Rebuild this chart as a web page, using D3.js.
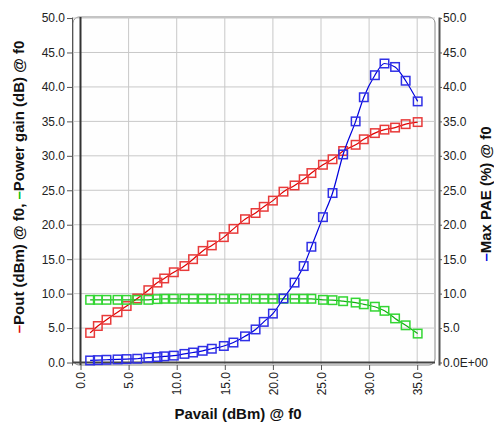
<!DOCTYPE html>
<html>
<head>
<meta charset="utf-8">
<script src="https://cdn.jsdelivr.net/npm/d3@7"></script>
<style>
  body { margin: 0; background: #fff; }
  svg { display: block; font-family: "Liberation Sans", Arial, sans-serif; }
  .tick text { fill: #222; font-size: 12px; }
  .axis path, .axis line { stroke: #555; }
  .grid line { stroke: #c8c8c8; stroke-width: 1; }
  .title { font-size: 15px; font-weight: bold; fill: #111; }
</style>
</head>
<body>
<div id="chart"></div>
<script>
const pavail = [1.0, 1.8, 2.7, 3.85, 4.8, 5.9, 7.05, 8.0, 8.7, 9.7, 10.8, 11.7, 12.7, 13.65, 14.9, 15.9, 17.1,
  18.2, 19.05, 20.0, 21.1, 22.25, 23.2, 24.0, 25.2, 26.2, 27.3, 28.6, 29.45, 30.6, 31.6, 32.7, 33.8, 35.05];
const pout = [4.3, 5.3, 6.2, 7.3, 8.2, 9.3, 10.5, 11.6, 12.2, 13.1, 14.0, 15.0, 16.2, 17.0, 18.2, 19.4, 20.8,
  21.7, 22.6, 23.5, 24.8, 25.7, 26.6, 27.5, 28.7, 29.5, 30.7, 31.6, 32.4, 33.3, 33.8, 34.1, 34.6, 34.9];
const gain = [9.1, 9.1, 9.1, 9.1, 9.1, 9.1, 9.1, 9.2, 9.25, 9.25, 9.25, 9.25, 9.25, 9.25, 9.25, 9.25, 9.25,
  9.25, 9.25, 9.25, 9.25, 9.25, 9.25, 9.25, 9.1, 9.05, 8.9, 8.7, 8.45, 8.1, 7.5, 6.4, 5.4, 4.2];
const pae = [0.3, 0.35, 0.4, 0.45, 0.5, 0.55, 0.7, 0.8, 0.9, 1.0, 1.25, 1.45, 1.7, 2.0, 2.4, 2.9, 3.8,
  4.8, 5.9, 7.1, 9.3, 11.6, 14.0, 16.8, 21.1, 24.6, 30.2, 35.0, 38.5, 41.7, 43.4, 42.9, 40.9, 37.9];

const xTicks = [0, 5, 10, 15, 20, 25, 30, 35];
const yTicks = [0, 5, 10, 15, 20, 25, 30, 35, 40, 45, 50];

const xTitle = 'Pavail (dBm) @ f0';
const leftTitleParts = [
  { text: '\u2013', color: '#e00000' }, { text: 'Pout (dBm) @ f0, ', color: '#111' },
  { text: '\u2013', color: '#00c000' }, { text: 'Power gain (dB) @ f0', color: '#111' }
];
const rightTitleParts = [
  { text: '\u2013', color: '#0000e0' }, { text: 'Max PAE (%) @ f0', color: '#111' }
];

const series = [
  { values: pout, line: '#e00000', marker: '#e83a3a' },
  { values: gain, line: '#10b010', marker: '#33d633' },
  { values: pae, line: '#0000dd', marker: '#3030e6' }
];

const W = 494, H = 424;
const M = { top: 17, right: 59, bottom: 59, left: 73 };
const iw = W - M.left - M.right, ih = H - M.top - M.bottom;

const svg = d3.select('#chart').append('svg').attr('width', W).attr('height', H);
const g = svg.append('g').attr('transform', `translate(${M.left},${M.top})`);

const x = d3.scaleLinear().domain([-0.78, 36.85]).range([0, iw]);
const y = d3.scaleLinear().domain([-0.36, 50.15]).range([ih, 0]);

// frame
g.append('rect').attr('x', 0).attr('y', 0).attr('width', iw).attr('height', ih)
  .attr('rx', 6).attr('fill', '#fefefe').attr('stroke', '#888').attr('stroke-width', 1);

// grid
g.append('g').attr('class', 'grid').selectAll('line').data(xTicks.slice(1)).join('line')
  .attr('x1', (d) => x(d)).attr('x2', (d) => x(d)).attr('y1', 0).attr('y2', ih);
g.append('g').attr('class', 'grid').selectAll('line').data(yTicks.slice(1)).join('line')
  .attr('x1', 0).attr('x2', iw).attr('y1', (d) => y(d)).attr('y2', (d) => y(d));

// zero lines
g.append('line').attr('x1', x(0)).attr('x2', x(0)).attr('y1', 0).attr('y2', ih)
  .attr('stroke', '#333').attr('stroke-width', 2);
g.append('line').attr('x1', 0).attr('x2', iw).attr('y1', y(0)).attr('y2', y(0))
  .attr('stroke', '#444').attr('stroke-width', 2);

// axes
const fmt = d3.format('.1f');
const left = g.append('g').attr('class', 'axis').attr('transform', 'translate(-1,0)')
  .call(d3.axisLeft(y).tickValues(yTicks).tickFormat(fmt).tickSize(5).tickPadding(2).tickSizeOuter(0));
left.select('.domain').attr('stroke-width', 1);

const right = g.append('g').attr('class', 'axis').attr('transform', `translate(${iw + 4},0)`)
  .call(d3.axisRight(y).tickValues(yTicks).tickFormat((d) => d === 0 ? '0.0E+00' : fmt(d))
    .tickSize(3).tickPadding(1).tickSizeOuter(0));
right.select('.domain').attr('stroke-width', 2);

const bottom = g.append('g').attr('class', 'axis').attr('transform', `translate(0,${ih})`)
  .call(d3.axisBottom(x).tickValues(xTicks).tickFormat(fmt).tickSize(5).tickSizeOuter(0));
bottom.select('.domain').remove();
bottom.selectAll('.tick text')
  .attr('transform', 'rotate(-90)')
  .attr('text-anchor', 'end')
  .attr('x', -7).attr('y', 0).attr('dy', '0.35em');

// series
const line = d3.line().x((d, i) => x(pavail[i])).y((d) => y(d)).curve(d3.curveMonotoneX);
const S = 8.5;
series.forEach((s) => {
  const sg = g.append('g');
  sg.append('path').datum(s.values).attr('d', line)
    .attr('fill', 'none').attr('stroke', s.line).attr('stroke-width', 1.2);
  sg.selectAll('rect').data(s.values).join('rect')
    .attr('x', (d, i) => x(pavail[i]) - S / 2).attr('y', (d) => y(d) - S / 2)
    .attr('width', S).attr('height', S)
    .attr('fill', 'none').attr('stroke', s.marker).attr('stroke-width', 1.5);
});

// titles
svg.append('text').attr('class', 'title').attr('x', 238).attr('y', 419)
  .attr('text-anchor', 'middle').text(xTitle);

const lt = svg.append('text').attr('class', 'title').attr('text-anchor', 'middle')
  .attr('transform', 'translate(19,187) rotate(-90)').attr('dy', '0.35em');
leftTitleParts.forEach((p) => lt.append('tspan').attr('fill', p.color).text(p.text));

const rt = svg.append('text').attr('class', 'title').attr('text-anchor', 'middle')
  .attr('transform', 'translate(486,194) rotate(-90)').attr('dy', '0.35em');
rightTitleParts.forEach((p) => rt.append('tspan').attr('fill', p.color).text(p.text));
</script>
</body>
</html>
